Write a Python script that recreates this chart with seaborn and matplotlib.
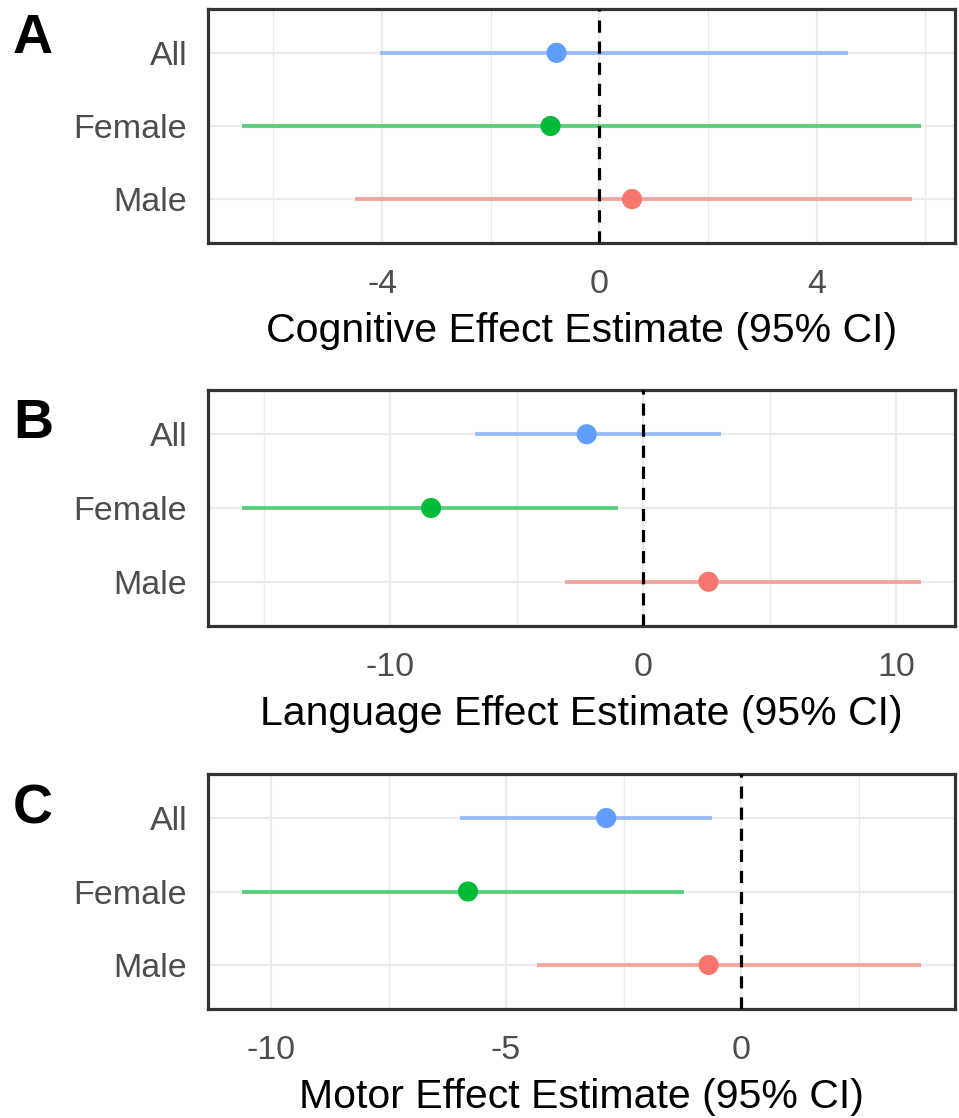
import numpy as np
import pandas as pd
import matplotlib
matplotlib.use("Agg")
import matplotlib.pyplot as plt
import seaborn as sns

# ---------------- data ----------------
groups = ["All", "Female", "Male"]
palette = {"All": "#619CFF", "Female": "#00BA38", "Male": "#F8766D"}

cog_est = [-0.79, -0.90, 0.60]
cog_lo = [-4.03, -6.58, -4.49]
cog_hi = [4.57, 5.92, 5.76]

lang_est = [-2.24, -8.39, 2.57]
lang_lo = [-6.67, -15.86, -3.08]
lang_hi = [3.06, -1.02, 10.97]

mot_est = [-2.87, -5.81, -0.69]
mot_lo = [-5.97, -10.62, -4.34]
mot_hi = [-0.62, -1.22, 3.83]

panel_letters = ["A", "B", "C"]
x_titles = ["Cognitive Effect Estimate (95% CI)",
            "Language Effect Estimate (95% CI)",
            "Motor Effect Estimate (95% CI)"]
major_ticks = [[-4, 0, 4], [-10, 0, 10], [-10, -5, 0]]
minor_ticks = [[-6, -2, 2, 6], [-15, -5, 5], [-7.5, -2.5, 2.5]]

panels = [(cog_est, cog_lo, cog_hi),
          (lang_est, lang_lo, lang_hi),
          (mot_est, mot_lo, mot_hi)]

# ---------------- style ----------------
sns.set_style("white")
plt.rcParams["font.family"] = ["Liberation Sans", "DejaVu Sans"]
plt.rcParams["axes.unicode_minus"] = False

W, H = 959, 1118
fig = plt.figure(figsize=(W / 100, H / 100), dpi=100)

# axes boxes in pixels: (left, top, right, bottom)
boxes = [(208, 9, 955, 243), (208, 390, 955, 626), (208, 774, 955, 1009)]
letter_tops = [13, 398, 784]

for i, (est, lo, hi) in enumerate(panels):
    l, t, r, b = boxes[i]
    ax = fig.add_axes([l / W, 1 - b / H, (r - l) / W, (b - t) / H])
    df = pd.DataFrame({"group": groups, "est": est, "lo": lo, "hi": hi})

    ax.hlines(y=df["group"], xmin=df["lo"], xmax=df["hi"],
              colors=[palette[g] for g in df["group"]],
              lw=2.9, alpha=0.6, zorder=2)
    ax.axvline(0, color="black", lw=2.3, ls=(0, (3.8, 2.8)), zorder=3)
    sns.scatterplot(data=df, x="est", y="group", hue="group", palette=palette,
                    s=210, edgecolor="none", legend=False, zorder=4, ax=ax)

    # ggplot-like 5% expansion of the data range
    xmin, xmax = min(lo), max(hi)
    pad = 0.05 * (xmax - xmin)
    ax.set_xlim(xmin - pad, xmax + pad)
    ax.set_ylim(2.6, -0.6)

    ax.set_xticks(major_ticks[i])
    ax.set_xticks(minor_ticks[i], minor=True)
    ax.set_xticklabels([str(v) for v in major_ticks[i]])
    ax.grid(which="major", color="#EBEBEB", lw=1.6)
    ax.grid(which="minor", axis="x", color="#EBEBEB", lw=1.0)
    ax.set_axisbelow(True)

    for sp in ax.spines.values():
        sp.set_color("#333333")
        sp.set_linewidth(2.3)

    ax.tick_params(which="major", length=4.5, width=1.6, color="#333333",
                   labelsize=24.5, labelcolor="#4D4D4D")
    ax.tick_params(axis="x", which="major", pad=14)
    ax.tick_params(axis="y", which="major", pad=10.5)
    ax.tick_params(which="minor", length=0)

    ax.set_ylabel("")
    ax.set_xlabel(x_titles[i], fontsize=29.5, color="black")
    ax.xaxis.set_label_coords(0.5, -69 / (b - t))

    fig.text(13 / W, 1 - letter_tops[i] / H, panel_letters[i], ha="left", va="top",
             fontsize=40, fontweight="bold", color="black")

fig.savefig("out.png", dpi=100, facecolor="white")
